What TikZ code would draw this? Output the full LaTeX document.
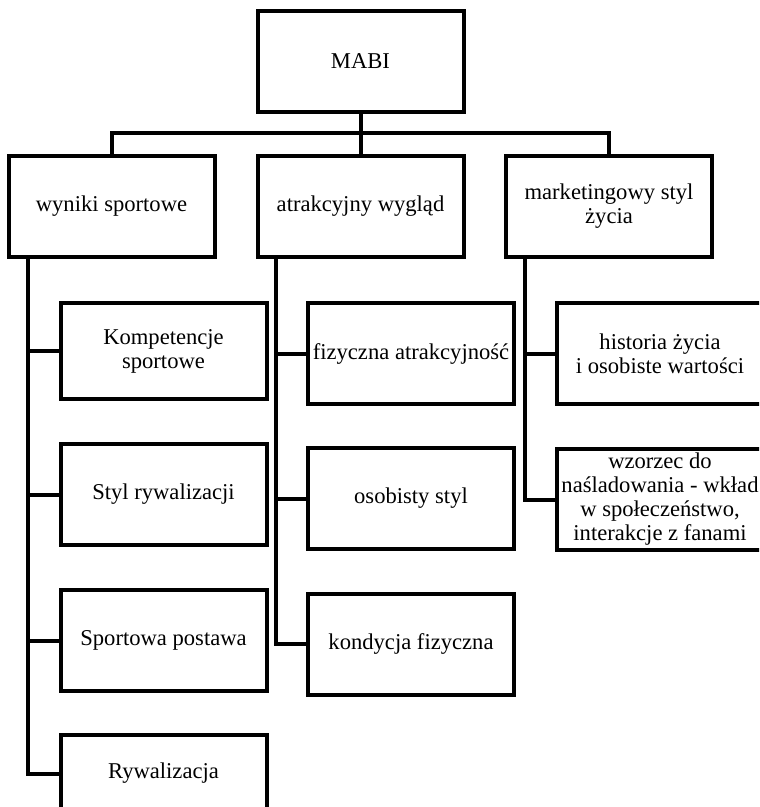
\documentclass[tikz,border=0pt]{standalone}
\usepackage{fontspec}
\setmainfont{Liberation Serif}
\begin{document}
\begin{tikzpicture}[x=0.5pt,y=-0.5pt,line width=2pt,
  box/.style={draw,align=center,minimum width=103pt,minimum height=50.5pt,inner sep=1pt,
    font=\fontsize{11.3}{12}\selectfont},
  conn/.style={draw}]
\useasboundingbox (0,0) rectangle (759,807);
\clip (0,0) rectangle (759,807);
\node[box] (mabi) at (360.5,61.5) {MABI};
\node[box] (wyniki) at (111.5,206.5) {wyniki sportowe};
\node[box] (wyglad) at (360.5,206.5) {atrakcyjny wygląd};
\node[box] (marketing) at (609,206.5) {marketingowy styl\\życia};

\node[box,minimum height=48pt] (kompet) at (163.5,351) {Kompetencje\\sportowe};
\node[box] (rywstyl) at (163.5,494.5) {Styl rywalizacji};
\node[box] (postawa) at (163.5,640.5) {Sportowa postawa};
\node[box,minimum height=38.5pt] (rywal) at (163.5,773.5) {Rywalizacja};

\node[box] (atrakc) at (411,353.5) {fizyczna atrakcyjność};
\node[box] (osob) at (411,498.5) {osobisty styl};
\node[box] (kondycja) at (411,644) {kondycja fizyczna};

\node[box] (historia) at (660,353.5) {historia życia\\i osobiste wartości};
\node[box] (wzorzec) at (660,499.5) {wzorzec do\\naśladowania - wkład\\w społeczeństwo,\\interakcje z fanami};

\coordinate (bus) at (360.5,133);
\draw[conn] (mabi.south) -- (wyglad.north);
\draw[conn] (wyniki.north) |- (bus) -| (marketing.north);

\coordinate (t1) at ([xshift=10.5pt]wyniki.south west);
\coordinate (t2) at ([xshift=10pt]wyglad.south west);
\coordinate (t3) at ([xshift=10.5pt]marketing.south west);
\draw[conn] (t1) |- (rywal.west);
\draw[conn] (t2) |- (kondycja.west);
\draw[conn] (t3) |- (wzorzec.west);
\foreach \n in {kompet,rywstyl,postawa}
  \draw[conn] (\n.west) -- (\n.west -| t1);
\foreach \n in {atrakc,osob}
  \draw[conn] (\n.west) -- (\n.west -| t2);
\draw[conn] (historia.west) -- (historia.west -| t3);
\end{tikzpicture}
\end{document}
